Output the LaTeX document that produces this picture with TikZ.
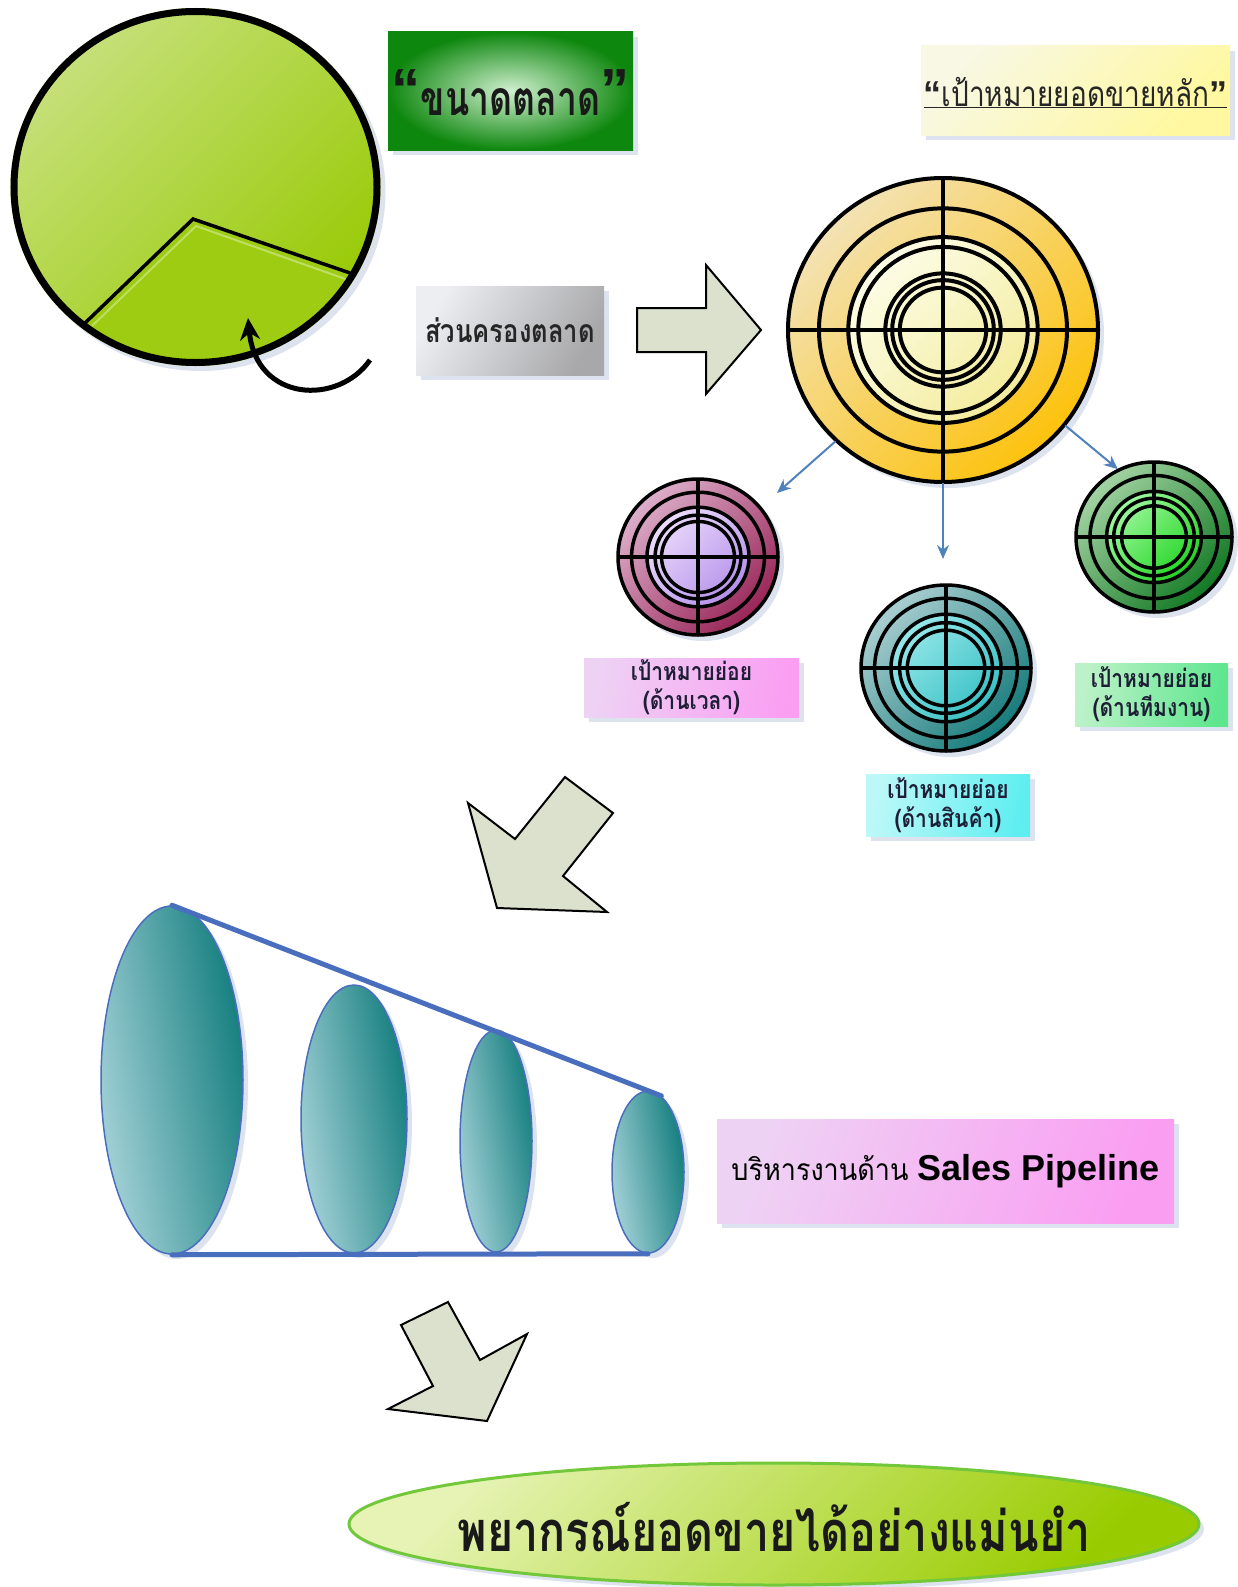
\documentclass[tikz,border=0pt]{standalone}
\usepackage{graphicx}
\usepackage{fontspec}
\setmainfont{Liberation Sans}
\newfontfamily\thai[Script=Thai]{Loma}
\usetikzlibrary{shapes.geometric,shadows,arrows.meta}
\definecolor{arrfill}{HTML}{DCE1CD}
\definecolor{shadowc}{HTML}{DCE2EE}
\definecolor{pipeblue}{HTML}{4A6EBE}
\definecolor{thinblue}{HTML}{4F81BD}
\definecolor{pieL}{HTML}{C6E07A}
\definecolor{pieD}{HTML}{98CA04}
\definecolor{wedgec}{HTML}{9DCC12}
\definecolor{gboxO}{HTML}{0E870E}
\definecolor{gboxI}{HTML}{D0F0D0}
\definecolor{yboxL}{HTML}{F8F8E4}
\definecolor{yboxD}{HTML}{FFF8A0}
\definecolor{grayL}{HTML}{ECEEF2}
\definecolor{grayD}{HTML}{A8A8AA}
\definecolor{bigL}{HTML}{F3E2B4}
\definecolor{bigD}{HTML}{FDC20C}
\definecolor{bigIL}{HTML}{FDFDE8}
\definecolor{bigID}{HTML}{F3EC9C}
\definecolor{purL}{HTML}{DDB0CC}
\definecolor{purD}{HTML}{982456}
\definecolor{purIL}{HTML}{ECDCFC}
\definecolor{purID}{HTML}{B490EA}
\definecolor{teaL}{HTML}{ABCFD2}
\definecolor{teaD}{HTML}{157A7A}
\definecolor{teaIL}{HTML}{96E8EA}
\definecolor{teaID}{HTML}{38C0C4}
\definecolor{grnL}{HTML}{A4D4A4}
\definecolor{grnD}{HTML}{117822}
\definecolor{grnIL}{HTML}{A0F8A0}
\definecolor{grnID}{HTML}{20D420}
\definecolor{pinkL}{HTML}{EED2F4}
\definecolor{pinkD}{HTML}{FA9EF2}
\definecolor{lgrnL}{HTML}{BDF2C8}
\definecolor{lgrnD}{HTML}{5EE68E}
\definecolor{cyanL}{HTML}{BDF8F8}
\definecolor{cyanD}{HTML}{5EEEF0}
\definecolor{pipeL}{HTML}{A8D4DA}
\definecolor{pipeD}{HTML}{0F7B7B}
\definecolor{fcL}{HTML}{E6F3B4}
\definecolor{fcD}{HTML}{99CC00}
\definecolor{fcB}{HTML}{72C83A}
\definecolor{labeltxt}{HTML}{1E1E36}
\newcommand{\cond}[2]{\scalebox{#1}[1]{#2}}
\tikzset{
  shad/.style={drop shadow={shadow xshift=5pt, shadow yshift=-5pt, fill=shadowc, opacity=1}},
  ring/.style={draw=black, line width=4pt},
  blockarrow/.style={draw=black, line width=2pt, fill=arrfill, line join=miter},
  bluearrow/.style={draw=thinblue, line width=2pt, -{Stealth[length=14pt,width=12pt]}},
  pipeline/.style={draw=pipeblue, line width=5pt, line cap=round},
  flatbox/.style={rectangle, inner sep=0pt, shad},
  labeltext/.style={align=center, text=labeltxt, font=\thai\bfseries\fontsize{25}{29}\selectfont},
  pipe/.style={ellipse, inner sep=0pt, draw=pipeblue, line width=1.5pt, top color=pipeL, bottom color=pipeD, shading angle=100, shad},
}
% #1 name, #2 center, #3 rx, #4 ry, #5 outer shading, #6 inner shading, #7 inner ratio, #8 ring ratios
\newcommand{\mytarget}[8]{%
  \node[ellipse, inner sep=0pt, minimum width={2*#3pt}, minimum height={2*#4pt}, #5, shad] (#1) at #2 {};
  \fill[#6] (#1.center) ellipse [x radius={#7*#3pt}, y radius={#7*#4pt}];
  \foreach \r in {#8} {\draw[ring] (#1.center) ellipse [x radius={\r*#3pt}, y radius={\r*#4pt}];}
  \draw[ring] (#1.north) -- (#1.south);
  \draw[ring] (#1.west) -- (#1.east);
  \draw[ring] (#1.center) ellipse [x radius={#3pt-1pt}, y radius={#4pt-1pt}];
}
\begin{document}
\begin{tikzpicture}[x=1pt,y=-1pt]
\useasboundingbox (0,0) rectangle (1237,1587);
\fill[white] (0,0) rectangle (1237,1587);

% ---------- pie ----------
\node[ellipse, inner sep=0pt, minimum width=370pt, minimum height=358pt, top color=pieL, bottom color=pieD, shading angle=45, shad] (pie) at (195.5,187) {};
\begin{scope}
  \clip (pie.center) ellipse [x radius=183pt, y radius=177pt];
  \fill[wedgec] (193,219) -- (-27,431) -- (195,560) -- (507,440) -- (507,327) -- cycle;
\end{scope}
\draw[white, opacity=0.35, line width=2pt] (92,326) -- (196,226) -- (348,280);
\draw[line width=3.5pt] (83,325) -- (193,219) -- (350,273);
\draw[line width=7pt] (pie.center) ellipse [x radius=181.5pt, y radius=175.5pt];

\coordinate (ca1) at (370,360);
\coordinate (ca2) at (248,318);
\draw[line width=5pt, -{Stealth[length=22pt,width=20pt]}] (ca1) .. controls (338,406) and (256,402) .. (ca2);

% ---------- boxes top ----------
\node[flatbox, minimum width=245pt, minimum height=118pt, shading=radial, inner color=gboxI, outer color=gboxO] (size) at (510.5,91) {};
\node[text=black!90, inner sep=0pt] at ([yshift=-2pt]size.center) {\raisebox{6pt}{\fontsize{58}{58}\selectfont\bfseries “}\cond{0.74}{\thai\bfseries\fontsize{48}{48}\selectfont ขนาดตลาด}\raisebox{6pt}{\fontsize{58}{58}\selectfont\bfseries ”}};

\node[flatbox, minimum width=309pt, minimum height=89pt, top color=yboxL, bottom color=yboxD, shading angle=45] (main) at (1075.5,90.5) {};
\node[text=black!85, inner sep=0pt] at ([yshift=-2pt]main.center) {\underline{{\fontsize{36}{36}\selectfont\bfseries “}\cond{0.8}{\thai\fontsize{35}{35}\selectfont เป้าหมายยอดขายหลัก}{\fontsize{36}{36}\selectfont\bfseries ”}}};

\node[flatbox, minimum width=188pt, minimum height=89pt, top color=grayL, bottom color=grayD, shading angle=60] (share) at (510,330.5) {};
\node[text=black!85] at (share.center) {\cond{0.8}{\thai\bfseries\fontsize{32}{32}\selectfont ส่วนครองตลาด}};

% right block arrow
\draw[blockarrow] (637,308) -- (706,308) -- (706,265) -- (761,330) -- (706,394) -- (706,352) -- (637,352) -- cycle;

% ---------- big target ----------
\mytarget{big}{(943,330)}{156}{153}{top color=bigL, bottom color=bigD, shading angle=45}{top color=bigIL, bottom color=bigID, shading angle=45}{0.607}{0.795,0.607,0.543,0.37,0.326,0.277}

% ---------- small targets ----------
\begin{scope}[ring/.style={draw=black, line width=3.5pt}]
\mytarget{pur}{(698,557)}{81}{79}{top color=purL, bottom color=purD, shading angle=45}{top color=purIL, bottom color=purID, shading angle=45}{0.63}{0.82,0.63,0.53,0.45}
\mytarget{tea}{(946,668)}{86}{84}{top color=teaL, bottom color=teaD, shading angle=45}{top color=teaIL, bottom color=teaID, shading angle=45}{0.64}{0.83,0.64,0.54,0.45}
\mytarget{grn}{(1154,537)}{79}{76}{top color=grnL, bottom color=grnD, shading angle=45}{top color=grnIL, bottom color=grnID, shading angle=45}{0.6}{0.81,0.6,0.51,0.41}
\end{scope}

% thin blue arrows
\coordinate (endL) at (777,493);
\coordinate (endM) at (943,559);
\draw[bluearrow] (big.226) -- (endL);
\draw[bluearrow] (big.south) -- (endM);
\draw[bluearrow] (big.322) -- (grn.118);

% labels
\node[flatbox, minimum width=215pt, minimum height=59pt, top color=pinkL, bottom color=pinkD, shading angle=80] (lpur) at (691.5,687.5) {};
\node[labeltext] at (lpur.center) {\cond{0.84}{เป้าหมายย่อย}\\\cond{0.84}{(ด้านเวลา)}};
\node[flatbox, minimum width=153pt, minimum height=63pt, top color=lgrnL, bottom color=lgrnD, shading angle=80] (lgrn) at (1151.5,694.5) {};
\node[labeltext] at (lgrn.center) {\cond{0.84}{เป้าหมายย่อย}\\\cond{0.84}{(ด้านทีมงาน)}};
\node[flatbox, minimum width=164pt, minimum height=62pt, top color=cyanL, bottom color=cyanD, shading angle=80] (ltea) at (948,805) {};
\node[labeltext] at (ltea.center) {\cond{0.84}{เป้าหมายย่อย}\\\cond{0.84}{(ด้านสินค้า)}};

% down-left block arrow
\draw[blockarrow] (468,803) -- (515,839) -- (565,777) -- (613,813) -- (563,876) -- (607,912) -- (497,908) -- cycle;

% ---------- pipeline ----------
\node[pipe, minimum width=142pt, minimum height=348pt] (p1) at (172,1080) {};
\node[pipe, minimum width=106pt, minimum height=268pt] (p2) at (354,1119) {};
\node[pipe, minimum width=72pt, minimum height=222pt] (p3) at (496,1141) {};
\node[pipe, minimum width=72pt, minimum height=162pt] (p4) at (648,1172) {};
\draw[pipeline] (p1.north) -- (p4.80);
\draw[pipeline] (p1.south) -- (p4.south);

\node[flatbox, minimum width=457pt, minimum height=104pt, top color=pinkL, bottom color=pinkD, shading angle=70] (sp) at (945.5,1171) {};
\node[text=black] at (sp.center) {\cond{0.9}{\thai\fontsize{30}{30}\selectfont บริหารงานด้าน}\hspace{9pt}{\bfseries\fontsize{36}{36}\selectfont Sales Pipeline}};

% down-right block arrow
\draw[blockarrow] (401,1325) -- (448,1302) -- (480,1360) -- (527,1334) -- (487,1421) -- (388,1409) -- (433,1386) -- cycle;

% ---------- forecast ----------
\node[ellipse, inner sep=0pt, minimum width=850pt, minimum height=122pt, draw=fcB, line width=3pt, top color=fcL, bottom color=fcD, shading angle=45, shad] (fc) at (774,1524) {};
\node[text=black!90] at ([yshift=-3pt]fc.center) {\cond{0.8}{\thai\bfseries\fontsize{56}{56}\selectfont พยากรณ์ยอดขายได้อย่างแม่นยำ}};
\end{tikzpicture}
\end{document}
